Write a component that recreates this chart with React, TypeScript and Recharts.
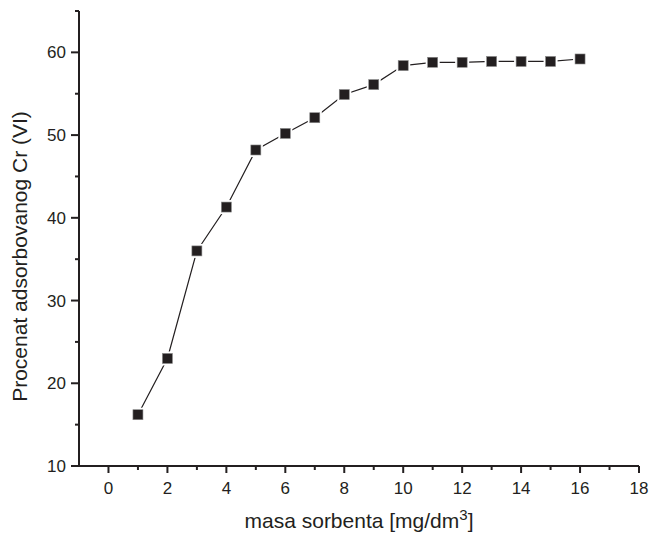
import { LineChart, Line, XAxis, YAxis } from 'recharts';

// sorbent mass (mg/dm3) vs. percentage of adsorbed Cr(VI)
const masa = [1, 2, 3, 4, 5, 6, 7, 8, 9, 10, 11, 12, 13, 14, 15, 16];
const procenat = [16.2, 23.0, 36.0, 41.3, 48.2, 50.2, 52.1, 54.9, 56.1, 58.4, 58.8, 58.8, 58.9, 58.9, 58.9, 59.2];

const xTicks = [-1, 0, 1, 2, 3, 4, 5, 6, 7, 8, 9, 10, 11, 12, 13, 14, 15, 16, 17, 18];
const yTicks = [10, 15, 20, 25, 30, 35, 40, 45, 50, 55, 60, 65];

const INK = '#231f20';
const FONT = '"Liberation Sans", Arial, sans-serif';

const data = masa.map((m, i) => ({ masa: m, procenat: procenat[i] }));

function XTick(props: any) {
  const { x, y, payload } = props;
  const v = payload.value;
  if (v < 0) return null;
  const major = v % 2 === 0;
  return (
    <g>
      <line x1={x} x2={x} y1={y} y2={y + (major ? 7 : 4)} stroke={INK} strokeWidth={2} />
      {major && (
        <text x={x} y={y + 28} textAnchor="middle" fontSize={17} fill={INK} fontFamily={FONT}>
          {v}
        </text>
      )}
    </g>
  );
}

function YTick(props: any) {
  const { x, y, payload } = props;
  const v = payload.value;
  const major = v % 10 === 0;
  return (
    <g>
      <line x1={x} x2={x - (major ? 8 : 4)} y1={y} y2={y} stroke={INK} strokeWidth={2} />
      {major && (
        <text x={x - 13} y={y + 6} textAnchor="end" fontSize={17} fill={INK} fontFamily={FONT}>
          {v}
        </text>
      )}
    </g>
  );
}

function SquareDot(props: any) {
  const { cx, cy, index } = props;
  return (
    <g key={`dot-${index}`}>
      <rect x={cx - 7} y={cy - 7} width={14} height={14} fill="#fff" />
      <rect x={cx - 5} y={cy - 5} width={10} height={10} fill={INK} stroke="#888" strokeWidth={0.6} />
    </g>
  );
}

function XTitle(props: any) {
  const { viewBox } = props;
  const cx = viewBox.x + viewBox.width / 2;
  return (
    <text x={cx} y={viewBox.y + 62} textAnchor="middle" fontSize={21} fill={INK} fontFamily={FONT}>
      masa sorbenta [mg/dm
      <tspan fontSize={15} dy={-8}>3</tspan>
      <tspan dy={8}>]</tspan>
    </text>
  );
}

function YTitle(props: any) {
  const { viewBox } = props;
  const cx = viewBox.x + 19;
  const cy = viewBox.y + viewBox.height / 2 + 18;
  return (
    <text
      x={cx}
      y={cy}
      transform={`rotate(-90, ${cx}, ${cy})`}
      textAnchor="middle"
      dominantBaseline="central"
      fontSize={21}
      fill={INK}
      fontFamily={FONT}
    >
      Procenat adsorbovanog Cr (VI)
    </text>
  );
}

export default function App() {
  return (
    <div style={{ position: 'absolute', left: 0, top: 0, width: 650, height: 533, background: '#fff' }}>
      <LineChart width={650} height={533} data={data} margin={{ top: 11, right: 11, left: 0, bottom: 0 }}>
        <XAxis
          dataKey="masa"
          type="number"
          domain={[-1, 18]}
          ticks={xTicks}
          interval={0}
          tickSize={0}
          tickMargin={0}
          tick={<XTick />}
          height={67}
          stroke={INK}
          strokeWidth={2}
          allowDataOverflow
          label={<XTitle />}
        />
        <YAxis
          type="number"
          domain={[10, 65]}
          ticks={yTicks}
          interval={0}
          tickSize={0}
          tickMargin={0}
          tick={<YTick />}
          width={79}
          stroke={INK}
          strokeWidth={2}
          allowDataOverflow
          label={<YTitle />}
        />
        <Line
          dataKey="procenat"
          stroke={INK}
          strokeWidth={1.2}
          dot={SquareDot}
          activeDot={false}
          isAnimationActive={false}
        />
      </LineChart>
    </div>
  );
}
